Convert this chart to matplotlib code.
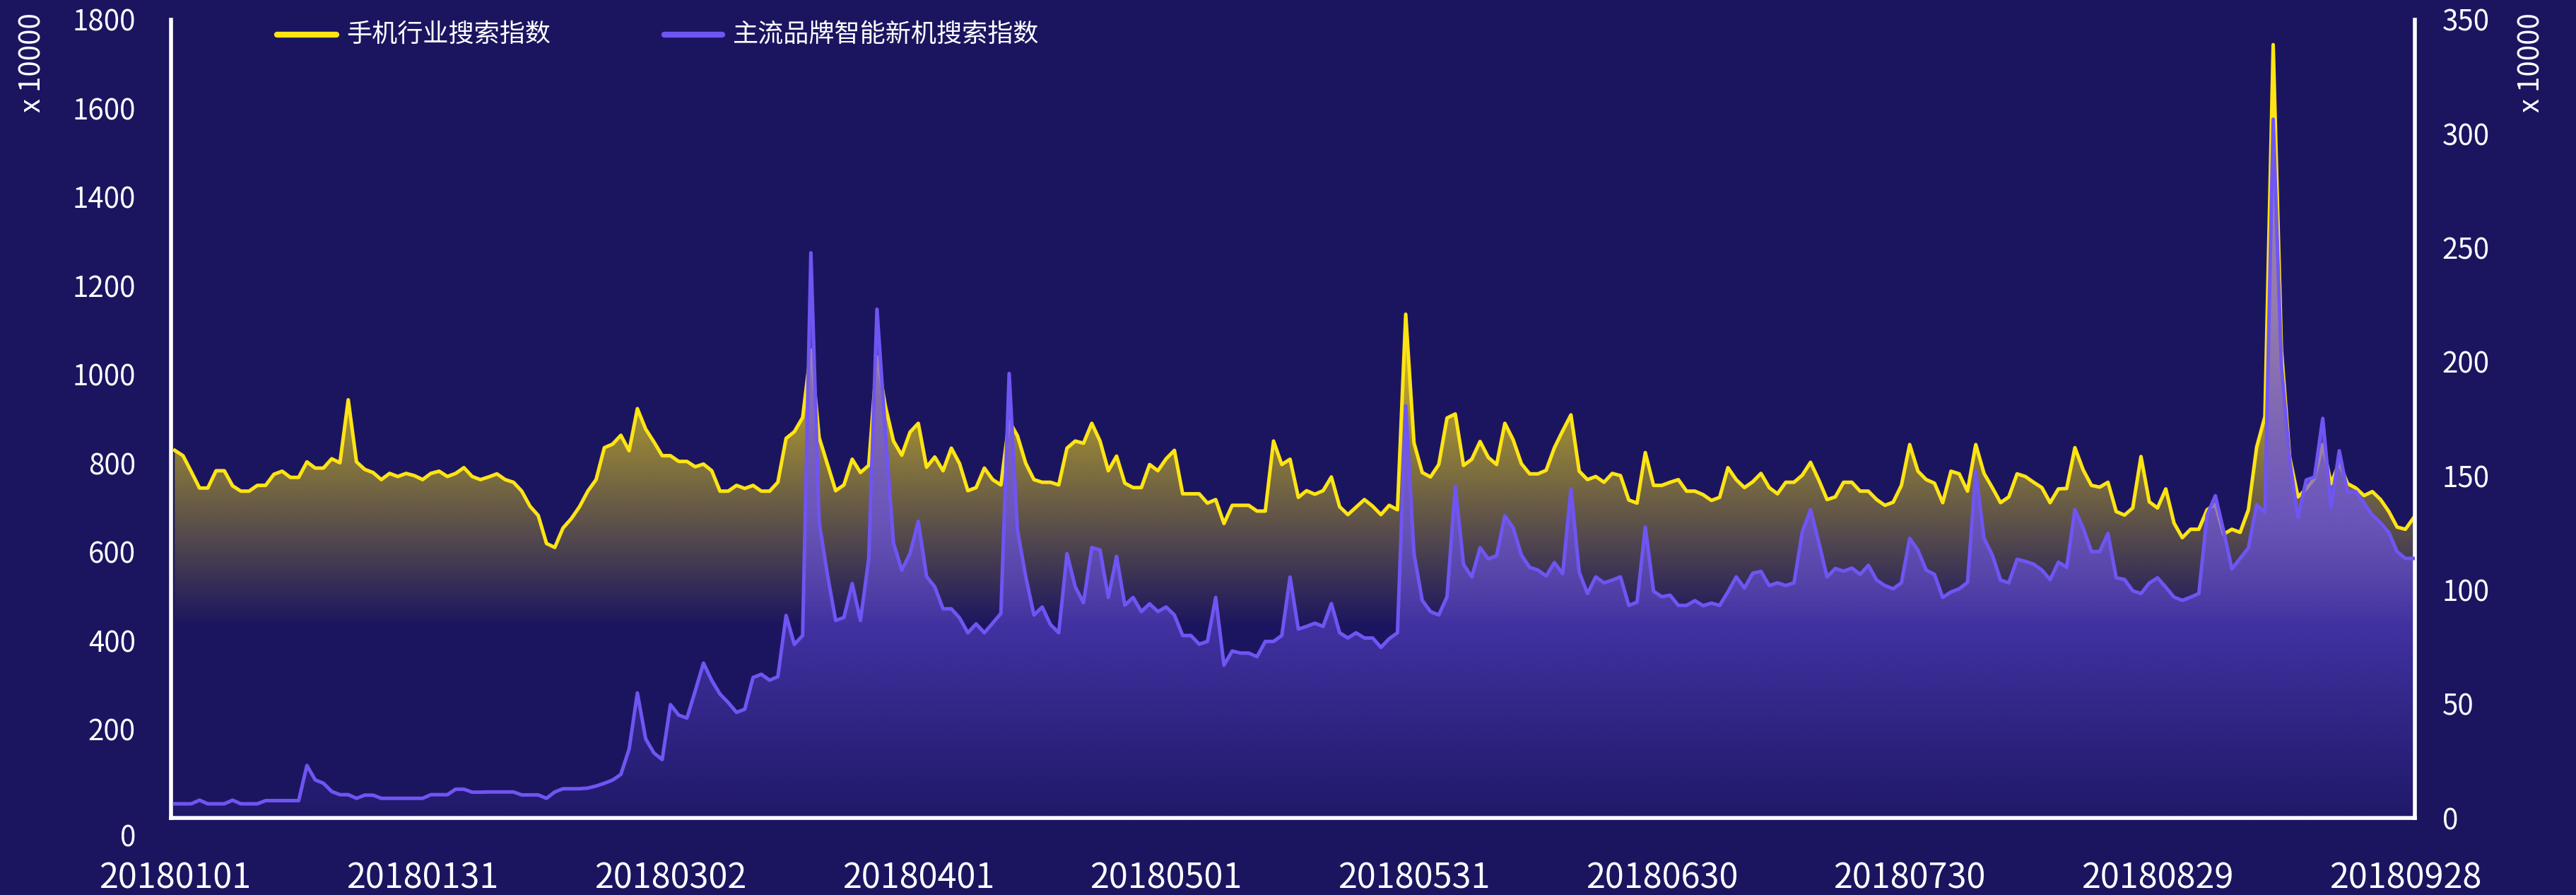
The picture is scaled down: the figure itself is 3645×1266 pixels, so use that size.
import numpy as np
import matplotlib
matplotlib.use("Agg")
import matplotlib.pyplot as plt
from matplotlib.lines import Line2D
import datetime as dt

# ---------------- data ----------------
series_names = ["手机行业搜索指数", "主流品牌智能新机搜索指数"]
axis_unit = "x 10000"

start_date = dt.date(2018, 1, 1)
n_days = 272
dates = [(start_date + dt.timedelta(days=i)).strftime("%Y%m%d") for i in range(n_days)]
tick_every = 30

industry_index = [
    829, 817, 781, 744, 744, 783, 783, 749, 737, 737,
    750, 750, 775, 782, 768, 768, 803, 789, 789, 810,
    801, 943, 803, 786, 779, 763, 777, 770, 777, 772,
    763, 777, 782, 770, 777, 790, 770, 763, 769, 776,
    763, 757, 737, 703, 682, 619, 610, 654, 675, 702,
    737, 763, 835, 843, 863, 828, 923, 877, 848, 817,
    817, 804, 804, 792, 798, 783, 737, 737, 750, 743,
    750, 737, 737, 757, 856, 871, 903, 1055, 858, 798,
    738, 751, 809, 779, 795, 1040, 930, 850, 818, 870,
    890, 791, 814, 783, 834, 799, 738, 745, 789, 763,
    751, 895, 862, 800, 763, 757, 757, 751, 834, 850,
    845, 890, 850, 783, 816, 755, 745, 745, 797, 783,
    810, 829, 731, 731, 731, 710, 718, 664, 705, 705,
    705, 692, 692, 850, 797, 809, 723, 738, 730, 738,
    769, 702, 684, 701, 718, 703, 684, 705, 695, 1136,
    846, 779, 769, 797, 902, 911, 795, 809, 849, 813,
    797, 890, 853, 799, 776, 776, 784, 835, 873, 909,
    782, 763, 770, 757, 777, 772, 717, 710, 824, 750,
    750, 757, 763, 737, 737, 729, 716, 723, 790, 763,
    745, 758, 777, 745, 731, 757, 757, 773, 802, 762,
    718, 724, 757, 757, 737, 737, 718, 705, 712, 750,
    842, 782, 763, 755, 711, 782, 776, 737, 842, 777,
    745, 711, 724, 776, 770, 757, 745, 711, 742, 743,
    835, 785, 750, 746, 757, 691, 683, 699, 815, 713,
    699, 742, 665, 632, 651, 651, 695, 707, 640, 651,
    644, 695, 836, 905, 1744, 1055, 813, 724, 742, 766,
    842, 754, 801, 754, 744, 727, 736, 718, 691, 656,
    651, 677,
]

brand_index = [
    6.2, 6.2, 6.2, 7.8, 6.2, 6.2, 6.2, 7.8, 6.2, 6.2,
    6.2, 7.6, 7.6, 7.6, 7.6, 7.6, 23.0, 16.7, 15.2, 11.6,
    10.2, 10.2, 8.6, 10.0, 10.0, 8.6, 8.6, 8.6, 8.6, 8.6,
    8.6, 10.2, 10.2, 10.2, 12.6, 12.6, 11.3, 11.3, 11.4, 11.4,
    11.4, 11.4, 10.1, 10.1, 10.1, 8.6, 11.4, 12.8, 12.8, 12.8,
    13.1, 14.0, 15.2, 16.6, 19.1, 30.2, 54.8, 34.7, 28.5, 25.6,
    49.7, 45.1, 43.8, 55.7, 67.9, 60.3, 54.3, 50.6, 46.3, 47.7,
    61.6, 63.0, 60.4, 61.9, 88.8, 76.1, 80.0, 247.8, 129.8, 106.7,
    86.6, 87.9, 102.8, 86.6, 113.6, 223.1, 170.0, 120.6, 108.7, 115.9,
    130.1, 105.9, 101.3, 91.7, 91.7, 87.7, 81.2, 85.1, 81.2, 85.4,
    89.7, 194.9, 126.4, 105.9, 89.0, 92.5, 84.8, 81.2, 115.9, 101.3,
    94.4, 118.6, 117.5, 96.7, 114.7, 93.3, 96.7, 90.5, 93.9, 90.5,
    92.5, 89.0, 80.0, 80.0, 76.2, 77.4, 96.7, 67.0, 73.2, 72.3,
    72.3, 70.7, 77.4, 77.4, 80.0, 105.6, 82.8, 84.0, 85.4, 84.0,
    94.0, 81.2, 78.9, 81.2, 78.9, 78.9, 74.8, 78.6, 81.2, 180.7,
    115.9, 95.4, 90.5, 89.0, 97.0, 145.4, 111.1, 105.7, 118.5, 113.6,
    115.0, 132.5, 127.2, 115.3, 109.9, 108.7, 106.1, 112.0, 107.1, 144.3,
    107.8, 98.4, 105.7, 103.1, 104.3, 105.7, 93.2, 94.6, 127.6, 99.4,
    97.0, 97.7, 93.2, 93.2, 95.3, 93.1, 94.2, 93.2, 99.1, 105.7,
    100.8, 107.3, 108.1, 101.9, 103.1, 101.9, 103.1, 125.4, 135.2, 120.9,
    105.7, 109.4, 108.2, 109.6, 106.8, 110.8, 104.3, 101.9, 100.5, 103.1,
    122.6, 117.4, 108.7, 106.8, 96.7, 99.1, 100.5, 103.3, 152.0, 122.6,
    115.3, 104.3, 103.1, 113.4, 112.5, 111.3, 108.7, 104.5, 112.2, 109.9,
    135.2, 127.1, 116.8, 116.8, 124.8, 105.3, 104.6, 99.6, 98.4, 103.0,
    105.3, 101.2, 96.8, 95.4, 96.8, 98.4, 132.8, 141.3, 125.9, 109.2,
    113.8, 118.4, 137.4, 134.0, 306.4, 198.1, 156.9, 131.7, 148.2, 149.5,
    175.2, 136.2, 161.0, 142.7, 143.1, 138.1, 132.8, 129.4, 125.2, 116.8,
    113.8, 113.8,
]

left_ticks = list(range(0, 1801, 200))
right_ticks = list(range(0, 351, 50))

# ---------------- style ----------------
BG = "#1b1560"
YEL = "#ffe414"
PUR = "#6f55f2"
W, H = 3645, 1266

plt.rcParams["font.family"] = ["Noto Sans CJK SC", "DejaVu Sans"]

fig = plt.figure(figsize=(W / 100, H / 100), dpi=100, facecolor=BG)
ax = fig.add_axes([242 / W, 1 - 1157 / H, (3417 - 242) / W, (1157 - 28) / H])
ax.set_facecolor(BG)
ax2 = ax.twinx()

x = np.arange(n_days)
yv = np.array(industry_index, dtype=float)
pv = np.array(brand_index, dtype=float)


def grad_fill(axis, xs, ys, rgb, vmax, alpha_fn, z):
    coll = axis.fill_between(xs, ys, 0, facecolor="none", edgecolor="none", lw=0)
    path = coll.get_paths()[0]
    vals = np.linspace(0, vmax, 800)
    img = np.zeros((800, 2, 4))
    img[..., 0:3] = rgb
    img[..., 3] = alpha_fn(vals)[:, None]
    im = axis.imshow(img, origin="lower", aspect="auto",
                     extent=[xs[0], xs[-1], 0, vmax], zorder=z,
                     interpolation="bilinear")
    im.set_clip_path(path, transform=axis.transData)


yel_rgb = np.array([255, 228, 20]) / 255
pur_rgb = np.array([111, 85, 242]) / 255

grad_fill(ax, x, yv, yel_rgb, 1800, lambda v: np.clip((v - 430) / 800, 0, 0.9), 2)
ax.plot(x, yv, color=YEL, lw=3.6, solid_joinstyle="round", zorder=3)

grad_fill(ax2, x, pv, pur_rgb, 350, lambda v: np.clip(0.06 + 0.0046 * v, 0, 0.68), 2)
ax2.plot(x, pv, color=PUR, lw=3.6, solid_joinstyle="round", zorder=3)

xlo, xhi = -0.45, n_days - 1 + 0.15
ax.set_xlim(xlo, xhi)
ax2.set_xlim(xlo, xhi)
ax.set_ylim(0, 1800)
ax2.set_ylim(0, 350)

# spines
for a in (ax, ax2):
    a.spines["top"].set_visible(False)
ax.spines["right"].set_visible(False)
ax2.spines["left"].set_visible(False)
ax2.spines["bottom"].set_visible(False)
for s in (ax.spines["left"], ax.spines["bottom"], ax2.spines["right"]):
    s.set_color("white")
    s.set_linewidth(4)

# ticks
xt = list(range(0, n_days, tick_every))
ax.set_xticks(xt)
ax.set_xticklabels([dates[i] for i in xt])
ax.tick_params(axis="x", length=0, pad=44, labelsize=35, labelcolor="white")

ax.set_yticks(left_ticks)
ax.set_yticklabels(["" if t == 0 else str(t) for t in left_ticks])
ax.tick_params(axis="y", length=0, pad=36, labelsize=29, labelcolor="white")
ax.annotate(str(left_ticks[0]), xy=(0, 0), xycoords=("axes fraction", "data"),
            xytext=(-36, -21), textcoords="offset points", ha="right", va="center",
            fontsize=29, color="white")

ax2.set_yticks(right_ticks)
ax2.set_yticklabels([str(t) for t in right_ticks])
ax2.tick_params(axis="y", length=0, pad=28, labelsize=29, labelcolor="white")

# unit labels
fig.text(46 / W, 1 - 89 / H, axis_unit, rotation=90, ha="center", va="center",
         fontsize=29, color="white")
fig.text(3582 / W, 1 - 89 / H, axis_unit, rotation=90, ha="center", va="center",
         fontsize=29, color="white")

# legend (manual)
ly = 1 - 49 / H
for (x0, x1, tx), col, name in zip([(392, 476, 490), (940, 1022, 1037)], [YEL, PUR], series_names):
    fig.add_artist(Line2D([x0 / W, x1 / W], [ly, ly], transform=fig.transFigure,
                          color=col, lw=6, solid_capstyle="round"))
    fig.text(tx / W, ly, name, ha="left", va="center", fontsize=26, color="white")

fig.savefig("out.png", dpi=100, facecolor=BG)
